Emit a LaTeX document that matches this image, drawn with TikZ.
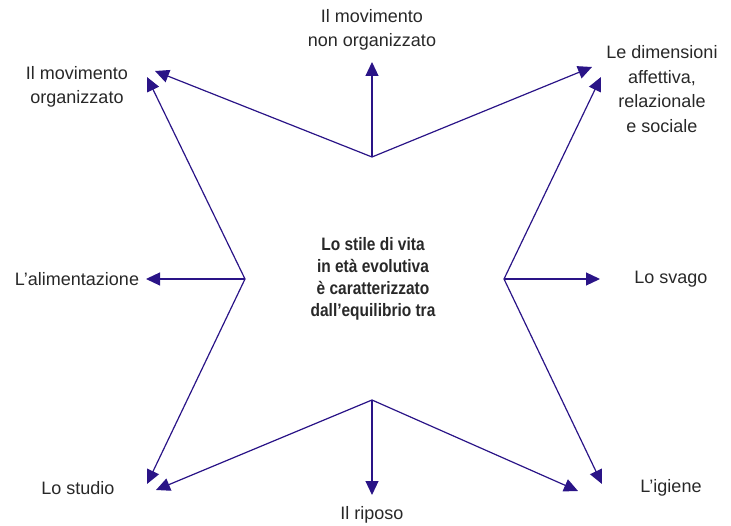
\documentclass[tikz,border=0pt]{standalone}
\usepackage{fontspec}
\setmainfont{Liberation Sans}
\newfontfamily\narrowbold{Liberation Sans}[FakeStretch=0.86]
\usetikzlibrary{arrows.meta,positioning}
\definecolor{starblue}{RGB}{42,20,135}
\definecolor{labelgray}{RGB}{40,40,40}
\tikzset{
	>={Triangle[length=14pt,width=13pt]},
	ray/.style={draw=starblue, line width=1.2pt, ->},
	itemtext/.style={
		text=labelgray,
		align=center,
		inner sep=0pt,
		font=\fontsize{18}{24.5}\selectfont},
	stiletext/.style={
		text=labelgray,
		align=center,
		inner sep=0pt,
		font=\narrowbold\bfseries\fontsize{18}{22}\selectfont},
}

\begin{document}
\begin{tikzpicture}[x=1pt,y=-1pt]
\useasboundingbox (0,0) rectangle (731,526);

% inner corners of the star
\coordinate (top) at (372,157);
\coordinate (left) at (245,279);
\coordinate (right) at (504,279);
\coordinate (bottom) at (372,400);

% arrow ends
\coordinate (upend) at (372,62);
\coordinate (ulfromtop) at (155,71);
\coordinate (urfromtop) at (592,67);
\coordinate (leftend) at (146,279);
\coordinate (ulfromleft) at (147,77);
\coordinate (llfromleft) at (147,484);
\coordinate (rightend) at (600,279);
\coordinate (urfromright) at (601,77);
\coordinate (lrfromright) at (602,484);
\coordinate (downend) at (372,495);
\coordinate (llfrombottom) at (156,490);
\coordinate (lrfrombottom) at (578,491);

\node[stiletext] (stile) at (373,279) {Lo stile di vita\\in età evolutiva\\è caratterizzato\\dall’equilibrio tra};

\node[itemtext] (nonorg) at (372,30) {Il movimento\\non organizzato};
\node[itemtext] (org) at (77,87) {Il movimento\\organizzato};
\node[itemtext] (dimensioni) at (662,89) {Le dimensioni\\affettiva,\\relazionale\\e sociale};
\node[itemtext] (alimentazione) at (77,279) {L’alimentazione};
\node[itemtext] (svago) at (671,279) {Lo svago};
\node[itemtext] (studio) at (78,488) {Lo studio};
\node[itemtext] (igiene) at (671,488) {L’igiene};
\node[itemtext] (riposo) at (372,515) {Il riposo};

\foreach \from/\to in {top/upend, top/ulfromtop, top/urfromtop,
	left/leftend, left/ulfromleft, left/llfromleft,
	right/rightend, right/urfromright, right/lrfromright,
	bottom/downend, bottom/llfrombottom, bottom/lrfrombottom}
	\draw[ray] (\from) -- (\to);
\end{tikzpicture}
\end{document}
